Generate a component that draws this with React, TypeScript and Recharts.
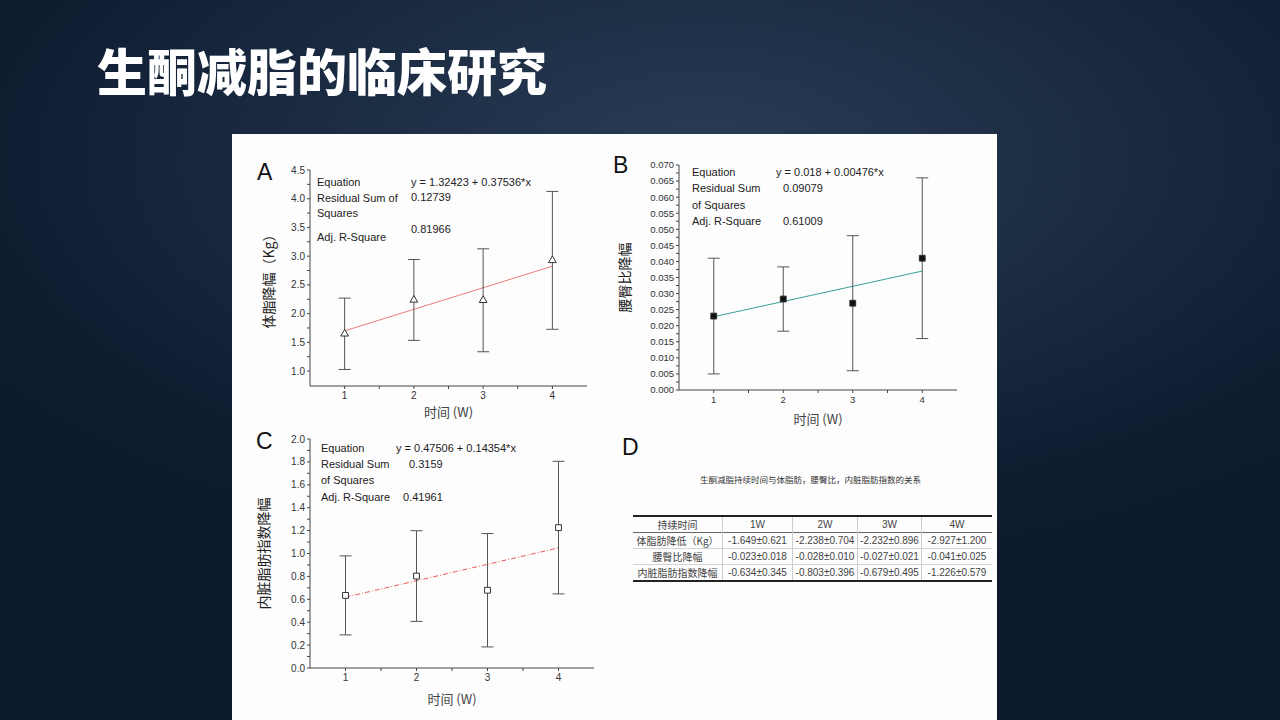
import React from "react";
import {
  ComposedChart,
  Scatter,
  Line,
  XAxis,
  YAxis,
  ZAxis,
  ErrorBar,
} from "recharts";

// weeks on the x axis
const weeks = [1, 2, 3, 4];
const xTicks = [1, 1.5, 2, 2.5, 3, 3.5, 4];

// A: body fat loss (Kg)
const fatMean = [1.649, 2.238, 2.232, 2.927];
const fatErr = [0.621, 0.704, 0.896, 1.2];
const fatFit = [1.6996, 2.8257];
const fatTicks = [1, 1.25, 1.5, 1.75, 2, 2.25, 2.5, 2.75, 3, 3.25, 3.5, 3.75, 4, 4.25, 4.5];

// B: waist-hip ratio loss
const whrMean = [0.023, 0.0283, 0.027, 0.041];
const whrErr = [0.018, 0.01, 0.021, 0.025];
const whrFit = [0.0228, 0.037];
const whrTicks = [
  0, 0.0025, 0.005, 0.0075, 0.01, 0.0125, 0.015, 0.0175, 0.02, 0.0225, 0.025,
  0.0275, 0.03, 0.0325, 0.035, 0.0375, 0.04, 0.0425, 0.045, 0.0475, 0.05,
  0.0525, 0.055, 0.0575, 0.06, 0.0625, 0.065, 0.0675, 0.07,
];

// C: visceral fat index loss
const vfiMean = [0.634, 0.803, 0.679, 1.226];
const vfiErr = [0.345, 0.396, 0.495, 0.579];
const vfiFit = [0.6186, 1.0492];
const vfiTicks = [0, 0.1, 0.2, 0.3, 0.4, 0.5, 0.6, 0.7, 0.8, 0.9, 1, 1.1, 1.2, 1.3, 1.4, 1.5, 1.6, 1.7, 1.8, 1.9, 2];

const fitX = [1, 4];

// D: table
const tableHead = ["持续时间", "1W", "2W", "3W", "4W"];
const tableRows = ["体脂肪降低（Kg）", "腰臀比降幅", "内脏脂肪指数降幅"];
const tableCells = [
  ["-1.649±0.621", "-2.238±0.704", "-2.232±0.896", "-2.927±1.200"],
  ["-0.023±0.018", "-0.028±0.010", "-0.027±0.021", "-0.041±0.025"],
  ["-0.634±0.345", "-0.803±0.396", "-0.679±0.495", "-1.226±0.579"],
];

const SANS = "'Liberation Sans', Arial, sans-serif";
const CJK = "'Noto Sans CJK SC', 'Liberation Sans', sans-serif";

const isStep = (v: number, step: number) =>
  Math.abs(Math.round(v / step) * step - v) < 1e-9;

function FitChart(props: any) {
  const {
    left, top, width, height, margin, yWidth, xHeight, xLabelOffset,
    yDomain, yTicks, yFmt, yLabel, yLabelOffset, mean, err, fit,
    fitColor, fitDash, shape, markerFill, markerSize, tickFont,
  } = props;
  const points = weeks.map((w, i) => ({ x: w, y: mean[i], err: err[i] }));
  const line = fitX.map((x, i) => ({ x, y: fit[i] }));
  const tickStyle = { fontSize: tickFont, fill: "#333", fontFamily: SANS };
  return (
    <div style={{ position: "absolute", left, top }}>
      <ComposedChart width={width} height={height} margin={margin}>
        <XAxis
          type="number"
          dataKey="x"
          domain={[0.5, 4.5]}
          ticks={xTicks}
          allowDataOverflow
          tickFormatter={(v: number) => (isStep(v, 1) ? String(v) : "")}
          tick={tickStyle}
          tickSize={3}
          tickMargin={3}
          height={xHeight}
          stroke="#444"
          label={{
            value: "时间 (W)",
            position: "insideBottom",
            offset: xLabelOffset,
            style: { fontSize: 13, fill: "#444", fontFamily: CJK },
          }}
        />
        <YAxis
          type="number"
          domain={yDomain}
          ticks={yTicks}
          allowDataOverflow
          interval={0}
          tickFormatter={yFmt}
          tick={tickStyle}
          tickSize={3}
          tickMargin={2}
          width={yWidth}
          stroke="#444"
          label={{
            value: yLabel,
            angle: -90,
            position: "insideLeft",
            offset: yLabelOffset,
            style: { fontSize: 14, fill: "#222", fontFamily: CJK, textAnchor: "middle" },
          }}
        />
        <ZAxis range={[markerSize, markerSize]} />
        <Line
          data={line}
          dataKey="y"
          stroke={fitColor}
          strokeWidth={1}
          strokeDasharray={fitDash}
          dot={false}
          isAnimationActive={false}
        />
        <Scatter
          data={points}
          dataKey="y"
          shape={shape}
          fill={markerFill}
          stroke="#333"
          strokeWidth={1}
          isAnimationActive={false}
        >
          <ErrorBar dataKey="err" direction="y" width={6} stroke="#555" strokeWidth={1} />
        </Scatter>
      </ComposedChart>
    </div>
  );
}

function Txt({ x, y, children, size = 11 }: any) {
  return (
    <div
      style={{
        position: "absolute",
        left: x,
        top: y - 7,
        lineHeight: "14px",
        fontSize: size,
        fontFamily: SANS,
        color: "#222",
        whiteSpace: "nowrap",
      }}
    >
      {children}
    </div>
  );
}

function Letter({ x, y, children }: any) {
  return (
    <div
      style={{
        position: "absolute",
        left: x,
        top: y - 13,
        lineHeight: "26px",
        fontSize: 23,
        fontFamily: SANS,
        color: "#111",
      }}
    >
      {children}
    </div>
  );
}

const colW = [89, 69, 64, 63, 70];

export default function App() {
  const cell = (w: number, extra: any = {}) => ({
    width: w,
    height: 15,
    padding: 0,
    textAlign: "center" as const,
    borderLeft: "1px solid #ccc",
    ...extra,
  });
  return (
    <div
      style={{
        position: "absolute",
        left: 0,
        top: 0,
        width: 1280,
        height: 720,
        overflow: "hidden",
        background:
          "radial-gradient(ellipse 70% 60% at 55% 22%, #2b3d55 0%, #1a2b42 45%, #0f1d31 80%, #0d1a2c 100%)",
      }}
    >
      <div
        style={{
          position: "absolute",
          left: 97,
          top: 42,
          fontSize: 50,
          lineHeight: "54px",
          fontWeight: 900,
          color: "#fff",
          fontFamily: CJK,
          whiteSpace: "nowrap",
        }}
      >
        生酮减脂的临床研究
      </div>

      <div
        style={{
          position: "absolute",
          left: 232,
          top: 134,
          width: 765,
          height: 586,
          background: "#fdfdfd",
        }}
      />

      <FitChart
        left={232}
        top={134}
        width={380}
        height={292}
        margin={{ top: 36, right: 25, bottom: 8, left: 30 }}
        yWidth={48}
        xHeight={32}
        xLabelOffset={1}
        yDomain={[0.74, 4.5]}
        yTicks={fatTicks}
        yFmt={(v: number) => (isStep(v, 0.5) ? v.toFixed(1) : "")}
        yLabel="体脂降幅（Kg）"
        yLabelOffset={7}
        mean={fatMean}
        err={fatErr}
        fit={fatFit}
        fitColor="#ee7a7a"
        shape="triangle"
        markerFill="#fff"
        markerSize={26}
        tickFont={10}
      />
      <FitChart
        left={600}
        top={134}
        width={397}
        height={298}
        margin={{ top: 31, right: 40, bottom: 8, left: 29 }}
        yWidth={50}
        xHeight={34}
        xLabelOffset={0}
        yDomain={[0, 0.07]}
        yTicks={whrTicks}
        yFmt={(v: number) => (isStep(v, 0.005) ? v.toFixed(3) : "")}
        yLabel="腰臀比降幅"
        yLabelOffset={-4}
        mean={whrMean}
        err={whrErr}
        fit={whrFit}
        fitColor="#3a9e98"
        shape="square"
        markerFill="#111"
        markerSize={34}
        tickFont={9.5}
      />
      <FitChart
        left={232}
        top={420}
        width={380}
        height={300}
        margin={{ top: 19, right: 18, bottom: 16, left: 30 }}
        yWidth={48}
        xHeight={36}
        xLabelOffset={0}
        yDomain={[0, 2]}
        yTicks={vfiTicks}
        yFmt={(v: number) => (isStep(v, 0.2) ? v.toFixed(1) : "")}
        yLabel="内脏脂肪指数降幅"
        yLabelOffset={2}
        mean={vfiMean}
        err={vfiErr}
        fit={vfiFit}
        fitColor="#e85a5a"
        fitDash="5 2 1 2"
        shape="square"
        markerFill="#fff"
        markerSize={34}
        tickFont={10}
      />

      <Letter x={257} y={172}>A</Letter>
      <Letter x={613} y={165}>B</Letter>
      <Letter x={256} y={441}>C</Letter>
      <Letter x={622} y={447}>D</Letter>

      <Txt x={317} y={182}>Equation</Txt>
      <Txt x={411} y={182}>y = 1.32423 + 0.37536*x</Txt>
      <Txt x={317} y={198}>Residual Sum of</Txt>
      <Txt x={411} y={197}>0.12739</Txt>
      <Txt x={317} y={213}>Squares</Txt>
      <Txt x={411} y={229}>0.81966</Txt>
      <Txt x={317} y={237}>Adj. R-Square</Txt>

      <Txt x={692} y={172}>Equation</Txt>
      <Txt x={776} y={172}>y = 0.018 + 0.00476*x</Txt>
      <Txt x={692} y={188}>Residual Sum</Txt>
      <Txt x={783} y={188}>0.09079</Txt>
      <Txt x={692} y={205}>of Squares</Txt>
      <Txt x={692} y={221}>Adj. R-Square</Txt>
      <Txt x={783} y={221}>0.61009</Txt>

      <Txt x={321} y={448}>Equation</Txt>
      <Txt x={396} y={448}>y = 0.47506 + 0.14354*x</Txt>
      <Txt x={321} y={464}>Residual Sum</Txt>
      <Txt x={409} y={464}>0.3159</Txt>
      <Txt x={321} y={480}>of Squares</Txt>
      <Txt x={321} y={497}>Adj. R-Square</Txt>
      <Txt x={403} y={497}>0.41961</Txt>

      <div
        style={{
          position: "absolute",
          left: 633,
          width: 355,
          top: 473,
          textAlign: "center",
          fontSize: 8.5,
          lineHeight: "12px",
          color: "#333",
          fontFamily: CJK,
        }}
      >
        生酮减脂持续时间与体脂肪，腰臀比，内脏脂肪指数的关系
      </div>

      <table
        style={{
          position: "absolute",
          left: 633,
          top: 515,
          width: 355,
          borderCollapse: "collapse",
          borderTop: "2px solid #222",
          borderBottom: "2px solid #222",
          fontSize: 10,
          fontFamily: SANS,
          color: "#444",
          tableLayout: "fixed",
        }}
      >
        <tbody>
          <tr style={{ borderBottom: "1px solid #666" }}>
            {tableHead.map((h, i) => (
              <td
                key={h}
                style={cell(colW[i], {
                  borderLeft: i === 0 ? "none" : "1px solid #ccc",
                  fontFamily: i === 0 ? CJK : SANS,
                  height: 15,
                })}
              >
                {h}
              </td>
            ))}
          </tr>
          {tableRows.map((r, ri) => (
            <tr key={r} style={{ borderTop: "1px solid #d4d4d4" }}>
              <td style={cell(colW[0], { borderLeft: "none", fontFamily: CJK })}>{r}</td>
              {tableCells[ri].map((v, ci) => (
                <td key={ci} style={cell(colW[ci + 1])}>
                  {v}
                </td>
              ))}
            </tr>
          ))}
        </tbody>
      </table>
    </div>
  );
}
